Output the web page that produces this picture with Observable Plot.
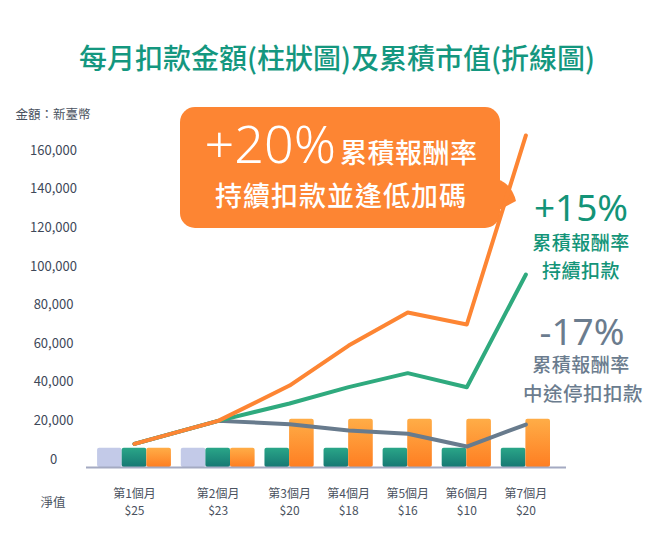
<!DOCTYPE html>
<html><head><meta charset="utf-8">
<script src="https://cdn.jsdelivr.net/npm/d3@7"></script>
<script src="https://cdn.jsdelivr.net/npm/@observablehq/plot@0.6"></script>
<style>
body{margin:0;background:#fff;}
#wrap{position:relative;width:660px;height:560px;overflow:hidden;font-family:"Noto Sans CJK TC","Noto Sans",sans-serif;}
.t{position:absolute;white-space:nowrap;text-align:center;line-height:1;}
#chart{position:absolute;left:0;top:90px;}
#box{position:absolute;left:180px;top:107px;width:320px;height:121px;border-radius:15px;background:#fd8533;}
</style></head><body>
<div id="wrap">
  <svg id="tail" width="660" height="560" style="position:absolute;left:0;top:0"><path d="M497,179 Q512,184 516,201 L497,211 Z" fill="#fd8533"/></svg>
  <div id="box"></div>
  <div id="chart"></div>
</div>
<script>
// ---- data ----
const months = ["第1個月","第2個月","第3個月","第4個月","第5個月","第6個月","第7個月"];
const navs = ["$25","$23","$20","$18","$16","$10","$20"];
const yTicks = [0,20000,40000,60000,80000,100000,120000,140000,160000];
// monthly deduction (bars)
const lumpBars    = [10000,10000,null,null,null,null,null];
const regularBars = [10000,10000,10000,10000,10000,10000,10000];
const smartBars   = [10000,10000,25000,25000,25000,25000,25000];
// accumulated market value (lines)
const smartValue   = [8100,20000,38300,59000,76100,69900,167800];
const regularValue = [8100,20000,29000,37500,44700,37400,95800];
const stoppedValue = [8100,20000,18300,15000,13300,6700,18100];

// ---- layout of bar slots (derived from data) ----
const GAP = 0.4;
const seriesDefs = [
  {key:"lump", vals: lumpBars, fill:"#c3cae8"},
  {key:"regular", vals: regularBars, fill:"url(#gTeal)"},
  {key:"smart", vals: smartBars, fill:"url(#gOrange)"}
];
const bars = [];
const centers = [];
let pos = 0;
months.forEach((m,i)=>{
  const start = pos;
  seriesDefs.forEach(s=>{
    if (s.vals[i] != null) { bars.push({key:s.key, x1:pos, x2:pos+1, v:s.vals[i]}); pos += 1; }
  });
  centers.push((start+pos)/2);
  pos += GAP;
});
const labelOf = new Map(centers.map((c,i)=>[c, months[i]+"\n"+navs[i]]));
const mkLine = vals => vals.map((v,i)=>({x:centers[i], v}));

const FONT = '"Noto Sans CJK TC","Noto Sans",sans-serif';
const plot = Plot.plot({
  width: 660, height: 470,
  marginLeft: 86, marginRight: 94, marginTop: 40, marginBottom: 101,
  x: {type:"linear", domain:[-0.45, 19.05], axis:null},
  y: {domain:[0,160000], range:[369,60], axis:null},
  style: {fontFamily: FONT, fontSize:"13px", color:"#3e4859", background:"transparent", overflow:"visible"},
  marks: [
    Plot.axisY(yTicks, {anchor:"left", label:null, tickSize:0, tickPadding:33, textAnchor:"middle", tickFormat:d3.format(","), fontSize:13, fill:"#3e4859"}),
    Plot.axisX(centers, {anchor:"bottom", label:null, tickSize:0, tickPadding:27, tickFormat:d=>labelOf.get(d), lineHeight:1.4, fontSize:12, fill:"#4a5260"}),
    ...seriesDefs.map(s => Plot.rectY(bars.filter(b=>b.key===s.key), {x1:"x1", x2:"x2", y:"v", fill:s.fill, rx:2, dy:8})),
    Plot.ruleY([0], {stroke:"#a4aac2", strokeWidth:2, dy:8}),
    Plot.line(mkLine(stoppedValue), {x:"x", y:"v", stroke:"#687b8d", strokeWidth:4}),
    Plot.line(mkLine(regularValue), {x:"x", y:"v", stroke:"#2faa7e", strokeWidth:4}),
    Plot.line(mkLine(smartValue), {x:"x", y:"v", stroke:"#fd8533", strokeWidth:4})
  ]
});
plot.insertAdjacentHTML("afterbegin", `<defs>
<linearGradient id="gTeal" x1="0" y1="0" x2="0" y2="1"><stop offset="0" stop-color="#2aa688"/><stop offset="1" stop-color="#167873"/></linearGradient>
<linearGradient id="gOrange" x1="0" y1="0" x2="0" y2="1"><stop offset="0" stop-color="#ffad47"/><stop offset="1" stop-color="#fe7e22"/></linearGradient>
</defs>`);
document.getElementById("chart").appendChild(plot);

// ---- texts ----
const wrap = document.getElementById("wrap");
function addText(txt, cx, cy, fs, color, extra){
  const d = document.createElement("div");
  d.className = "t";
  d.textContent = txt;
  d.style.left = (cx-250)+"px"; d.style.width = "500px";
  d.style.top = (cy - 0.5*fs)+"px";
  d.style.height = fs+"px";
  d.style.fontSize = fs+"px"; d.style.color = color;
  Object.assign(d.style, extra||{});
  wrap.appendChild(d);
  return d;
}
addText("每月扣款金額(柱狀圖)及累積市值(折線圖)", 329, 57, 28, "#14977f", {fontWeight:"500"});
addText("金額：新臺幣", 53, 114, 12.5, "#4a5260");
addText("淨值", 53, 502, 12.5, "#4a5260");

// callout row 1
const r1 = document.createElement("div");
r1.className = "t";
Object.assign(r1.style, {left:"91px", width:"500px", top:"117px", fontSize:"52px", color:"#fff", fontFamily:'"Noto Sans",sans-serif', fontWeight:"300"});
r1.innerHTML = '<span>+20%</span><span style="font-family:\'Noto Sans CJK TC\',sans-serif;font-size:27px;font-weight:500;margin-left:4px;letter-spacing:0.5px">累積報酬率</span>';
wrap.appendChild(r1);
addText("持續扣款並逢低加碼", 341, 194, 27, "#fff", {letterSpacing:"1px", fontWeight:"500"});

addText("+15%", 581, 206, 37, "#139478", {fontFamily:'"Noto Sans",sans-serif'});
addText("累積報酬率", 581, 241, 19, "#139478", {letterSpacing:"0.5px", fontWeight:"500"});
addText("持續扣款", 581, 269, 19, "#139478", {letterSpacing:"0.5px", fontWeight:"500"});
addText("-17%", 582, 330, 37, "#6b7c8e", {fontFamily:'"Noto Sans",sans-serif'});
addText("累積報酬率", 581, 363, 19, "#6b7c8e", {letterSpacing:"0.5px", fontWeight:"500"});
addText("中途停扣扣款", 583, 393, 19.5, "#6b7c8e", {letterSpacing:"0.5px", fontWeight:"500"});
</script>
</body></html>
